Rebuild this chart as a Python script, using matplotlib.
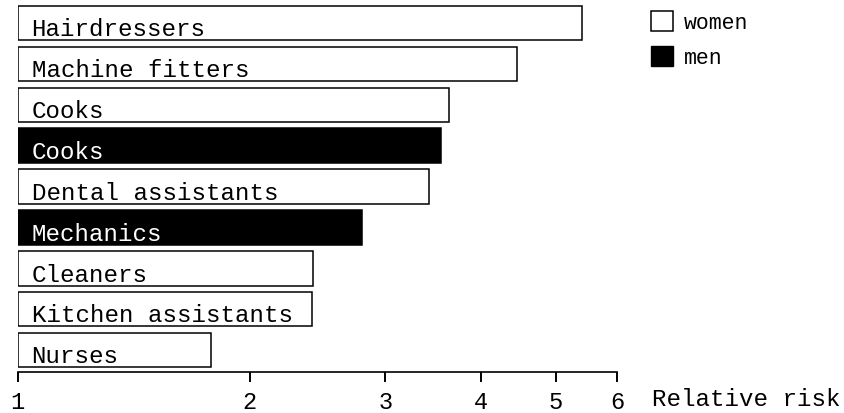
import matplotlib
matplotlib.use('Agg')
import matplotlib.pyplot as plt
from matplotlib.patches import Patch

# occupations, sex and relative risk (top to bottom)
jobs = ['Hairdressers', 'Machine fitters', 'Cooks', 'Cooks', 'Dental assistants',
        'Mechanics', 'Cleaners', 'Kitchen assistants', 'Nurses']
sex = ['women', 'women', 'women', 'men', 'women', 'men', 'women', 'women', 'women']
risk = [5.40, 4.45, 3.63, 3.55, 3.42, 2.80, 2.42, 2.41, 1.78]
ticks = [1, 2, 3, 4, 5, 6]

font = ['Liberation Mono', 'DejaVu Sans Mono']
plt.rcParams['font.family'] = font

fig = plt.figure(figsize=(8.44, 4.14), dpi=100)
ax = fig.add_axes([17.7 / 844, 1 - 372.7 / 414, (617 - 17.7) / 844, 372.7 / 414])

n = len(jobs)
ypos = [n - 1 - i for i in range(n)]
h = 0.845
colors = {'women': 'white', 'men': 'black'}

for y, job, s, r in zip(ypos, jobs, sex, risk):
    ax.barh(y, r - 1, left=1, height=h, color=colors[s], edgecolor='black', linewidth=1.1)
    ax.annotate(job, xy=(1, y - h / 2), xytext=(10, 3.6), textcoords='offset points',
                va='baseline', ha='left', fontsize=17.4,
                color='white' if s == 'men' else 'black')

ax.set_xscale('log')
ax.set_xlim(1, 6)
ax.set_ylim(-0.531, n - 1 + 0.592)
ax.set_xticks(ticks)
ax.set_xticklabels([str(t) for t in ticks])
ax.xaxis.set_minor_locator(matplotlib.ticker.NullLocator())
ax.tick_params(axis='x', direction='out', length=7.5, width=1.4, pad=6, labelsize=17)
ax.set_yticks([])
for side in ['top', 'right', 'left']:
    ax.spines[side].set_visible(False)
ax.spines['bottom'].set_linewidth(1.2)

fig.text(652 / 844, 1 - 406 / 414, 'Relative risk', fontsize=17.4, va='baseline', ha='left')

handles = [Patch(facecolor='white', edgecolor='black', linewidth=1.1, label='women'),
           Patch(facecolor='black', edgecolor='black', label='men')]
fig.legend(handles=handles, loc='upper left', bbox_to_anchor=(640 / 844, 1 - 1 / 414),
           frameon=False, fontsize=15.5, handlelength=1.05, handleheight=1.05,
           handletextpad=0.5, labelspacing=0.6, borderpad=0.0)

fig.savefig('out.png', dpi=100)
